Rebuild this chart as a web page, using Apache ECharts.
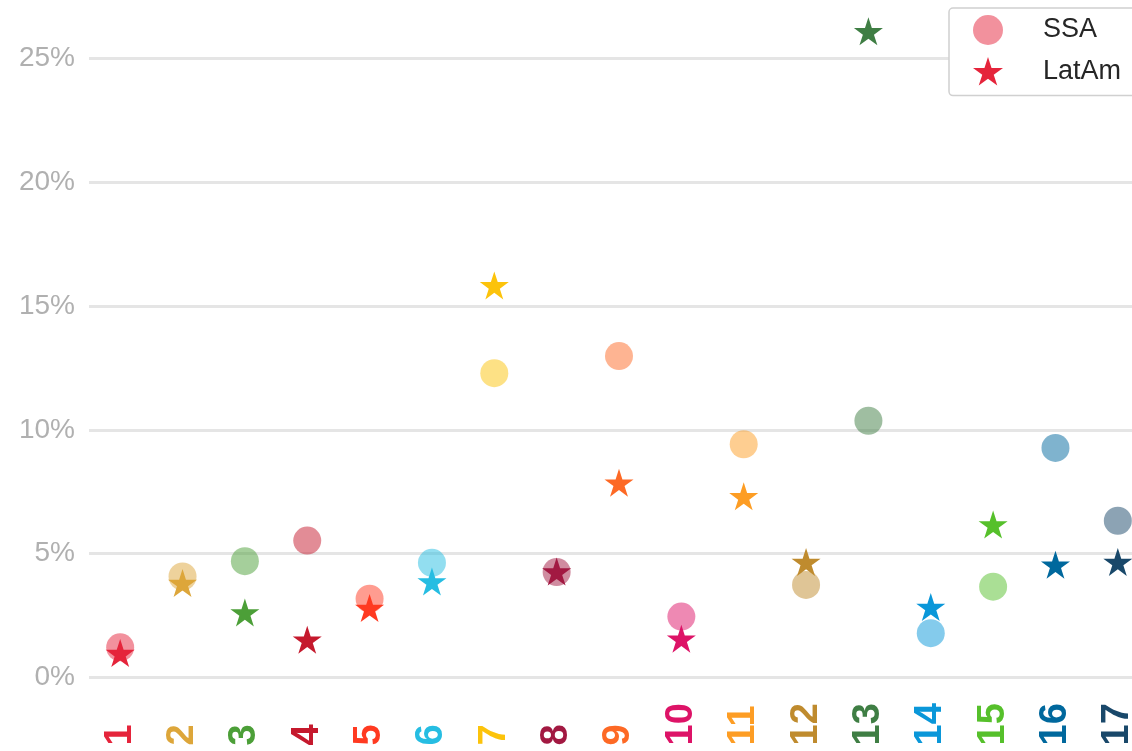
<!DOCTYPE html>
<html>
<head>
<meta charset="utf-8">
<script src="https://cdn.jsdelivr.net/npm/echarts@6/dist/echarts.min.js"></script>
<style>
html,body{margin:0;padding:0;background:#fff;overflow:hidden;}
#chart{width:1149px;height:751px;}
</style>
</head>
<body>
<div id="chart"></div>
<script>
var categories = ['1','2','3','4','5','6','7','8','9','10','11','12','13','14','15','16','17'];
var ssaValues = [1.22, 4.08, 4.70, 5.53, 3.18, 4.63, 12.29, 4.26, 12.98, 2.46, 9.42, 3.74, 10.37, 1.79, 3.67, 9.27, 6.33];
var latamValues = [0.93, 3.76, 2.57, 1.47, 2.75, 3.82, 15.78, 4.22, 7.81, 1.51, 7.26, 4.61, 26.04, 2.79, 6.12, 4.50, 4.61];
var sdgColors = ['#E5243B','#DDA63A','#4C9F38','#C5192D','#FF3A21','#26BDE2','#FCC30B','#A21942','#FD6925','#DD1367','#FD9D24','#BF8B2E','#3F7E44','#0A97D9','#56C02B','#00689D','#19486A'];
var seriesNames = ['SSA', 'LatAm'];

var starPath = 'path://M0,-100 L22.45,-30.9 L95.11,-30.9 L36.33,11.8 L58.78,80.9 L0,38.2 L-58.78,80.9 L-36.33,11.8 L-95.11,-30.9 L-22.45,-30.9 Z';

function hexToRgba(hex, a) {
  var r = parseInt(hex.slice(1,3),16), g = parseInt(hex.slice(3,5),16), b = parseInt(hex.slice(5,7),16);
  return 'rgba(' + r + ',' + g + ',' + b + ',' + a + ')';
}

var chart = echarts.init(document.getElementById('chart'), null, {renderer: 'canvas'});
var option = {
  backgroundColor: '#ffffff',
  animation: false,
  grid: { left: 89, right: 0, top: 58.5, bottom: 73.5, containLabel: false },
  legend: {
    orient: 'vertical',
    left: 949,
    top: 8,
    padding: [7, 60, 10, 24],
    itemGap: 12,
    itemWidth: 30,
    itemHeight: 30,
    borderColor: '#d0d0d0',
    borderWidth: 1.5,
    borderRadius: 4,
    backgroundColor: '#ffffff',
    textStyle: { fontFamily: 'Liberation Sans, Arial, sans-serif', fontSize: 27, color: '#262626', padding: [0, 0, 0, 35] },
    data: [
      { name: seriesNames[0], icon: 'circle', itemStyle: { color: hexToRgba(sdgColors[0], 0.5), opacity: 1 } },
      { name: seriesNames[1], icon: starPath, itemStyle: { color: sdgColors[0], opacity: 1 } }
    ]
  },
  xAxis: {
    type: 'category',
    data: categories,
    boundaryGap: true,
    axisLine: { show: false },
    axisTick: { show: false },
    splitLine: { show: false },
    axisLabel: {
      rotate: 90,
      align: 'left',
      verticalAlign: 'middle',
      margin: 68,
      fontFamily: 'Liberation Sans, Arial, sans-serif',
      fontWeight: 'bold',
      fontSize: 38,
      interval: 0,
      color: function (value, index) { return sdgColors[categories.indexOf(value)]; }
    }
  },
  yAxis: {
    type: 'value',
    min: 0,
    max: 25,
    interval: 5,
    axisLine: { show: false },
    axisTick: { show: false },
    splitLine: { show: true, lineStyle: { color: '#e5e5e5', width: 3 } },
    axisLabel: {
      margin: 14,
      formatter: '{value}%',
      fontFamily: 'Liberation Sans, Arial, sans-serif',
      fontSize: 28,
      color: '#b0b0b0'
    }
  },
  series: [
    {
      name: seriesNames[0],
      type: 'scatter',
      clip: false,
      symbol: 'circle',
      symbolSize: 28,
      data: ssaValues,
      itemStyle: { opacity: 1, color: function (p) { return hexToRgba(sdgColors[p.dataIndex], 0.5); } },
      z: 2
    },
    {
      name: seriesNames[1],
      type: 'scatter',
      clip: false,
      symbol: starPath,
      symbolSize: [29, 28],
      symbolOffset: [0, -1.4],
      data: latamValues,
      itemStyle: { opacity: 1, color: function (p) { return sdgColors[p.dataIndex]; } },
      z: 3
    }
  ]
};
chart.setOption(option);
</script>
</body>
</html>
